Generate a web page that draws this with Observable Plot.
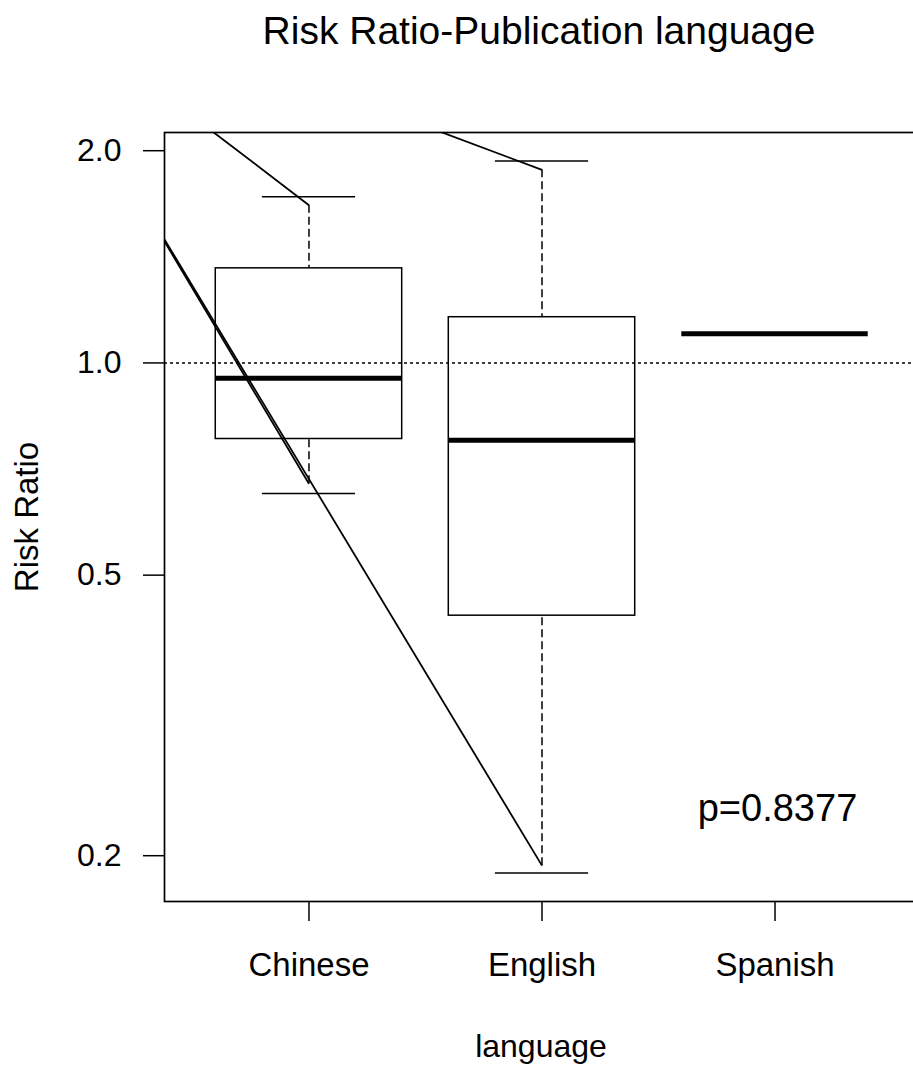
<!DOCTYPE html>
<html><head><meta charset="utf-8">
<script src="https://cdn.jsdelivr.net/npm/d3@7"></script>
<script src="https://cdn.jsdelivr.net/npm/@observablehq/plot@0.6"></script>
<style>html,body{margin:0;padding:0;background:#fff;overflow:hidden}</style>
</head><body><div id="chart"></div>
<script>
// ---- data ----
const languages = ["Chinese", "English", "Spanish"];
const medians = [0.951, 0.777, 1.100];
const lowerHinges = [0.780, 0.438, null];
const upperHinges = [1.362, 1.161, null];
const whiskerLowEnds = [0.674, 0.1936, null];
const whiskerHighEnds = [1.674, 1.879, null];
const capLows = [0.653, 0.189, null];
const capHighs = [1.721, 1.934, null];
const yTicks = [0.2, 0.5, 1.0, 2.0];
const refValue = [1];
const titleText = ["Risk Ratio-Publication language"];
const xLabel = ["language"];
const yLabel = ["Risk Ratio"];
const pLabel = ["p=0.8377"];
// diagonal segments drawn across the panel (start/end in data units)
const segFromX = [0.38, 0.38, 0.38, 0.38];
const segFromY = [2.40, 2.98, 1.487, 1.497];
const segToX = [1, 2, 1, 2];
const segToY = [1.674, 1.879, 0.674, 0.1936];

// ---- tables built from the arrays ----
const rows = languages.map((name, i) => ({
  name, pos: i + 1,
  med: medians[i], q1: lowerHinges[i], q3: upperHinges[i],
  wLo: whiskerLowEnds[i], wHi: whiskerHighEnds[i],
  cLo: capLows[i], cHi: capHighs[i]
}));
const boxRows = rows.filter(d => d.q1 != null);
const segs = segFromX.map((x, i) => ({x1: segFromX[i], y1: segFromY[i], x2: segToX[i], y2: segToY[i]}));

// R-style 4% axis extension
const allVals = [...capLows, ...capHighs, ...medians].filter(v => v != null);
const lmin = Math.log10(d3.min(allVals)), lmax = Math.log10(d3.max(allVals));
const pad = 0.04 * (lmax - lmin);
const yDomain = [10 ** (lmin - pad), 10 ** (lmax + pad)];
const xDomain = [0.5 - 0.04 * 3, languages.length + 0.5 + 0.04 * 3];

const font = "'Liberation Sans', Arial, Helvetica, sans-serif";
const half = 0.4, stapleHalf = 0.2;

const chart = Plot.plot({
  width: 913, height: 1068,
  marginLeft: 164, marginRight: -6, marginTop: 132, marginBottom: 167,
  style: {fontFamily: font, fontSize: "32px", color: "black", background: "white"},
  x: {type: "linear", domain: xDomain},
  y: {type: "log", domain: yDomain},
  marks: [
    Plot.ruleY(refValue, {stroke: "black", strokeWidth: 1.5, strokeDasharray: "3,3"}),
    // whiskers (drawn from whisker end toward hinge)
    Plot.ruleX(boxRows, {x: "pos", y1: "wHi", y2: "q3", stroke: "black", strokeWidth: 1.5, strokeDasharray: "8,4"}),
    Plot.ruleX(boxRows, {x: "pos", y1: "wLo", y2: "q1", stroke: "black", strokeWidth: 1.5, strokeDasharray: "8,4"}),
    // staples
    Plot.ruleY(boxRows, {y: "cHi", x1: d => d.pos - stapleHalf, x2: d => d.pos + stapleHalf, stroke: "black", strokeWidth: 1.5}),
    Plot.ruleY(boxRows, {y: "cLo", x1: d => d.pos - stapleHalf, x2: d => d.pos + stapleHalf, stroke: "black", strokeWidth: 1.5}),
    // boxes
    Plot.rect(boxRows, {x1: d => d.pos - half, x2: d => d.pos + half, y1: "q1", y2: "q3", fill: "none", stroke: "black", strokeWidth: 1.5}),
    // medians
    Plot.ruleY(rows, {y: "med", x1: d => d.pos - half, x2: d => d.pos + half, stroke: "black", strokeWidth: 5}),
    // diagonal segments
    Plot.link(segs, {x1: "x1", y1: "y1", x2: "x2", y2: "y2", stroke: "black", strokeWidth: 1.8, clip: true}),
    Plot.frame({stroke: "black", strokeWidth: 1.7}),
    Plot.axisY(yTicks, {tickSize: 21, tickPadding: 22, tickFormat: d3.format(".1f"), fontSize: 32, strokeWidth: 1.5, label: null}),
    Plot.axisX([1, 2, 3], {tickSize: 20, tickPadding: 31, tickFormat: d => languages[d - 1], fontSize: 33, strokeWidth: 1.5, label: null}),
    Plot.text(titleText, {frameAnchor: "top", lineAnchor: "middle", dx: -3, dy: -101, fontSize: 39, fill: "black"}),
    Plot.text(xLabel, {frameAnchor: "bottom", lineAnchor: "middle", dx: -1, dy: 145, fontSize: 32, fill: "black"}),
    Plot.text(yLabel, {frameAnchor: "left", lineAnchor: "middle", dx: -137, rotate: -90, textAnchor: "middle", fontSize: 33, fill: "black"}),
    Plot.text(pLabel, {frameAnchor: "bottom-right", lineAnchor: "middle", dx: -142, dy: -93, textAnchor: "middle", fontSize: 38, fill: "black"})
  ]
});
document.getElementById("chart").appendChild(chart);
</script>
</body></html>
